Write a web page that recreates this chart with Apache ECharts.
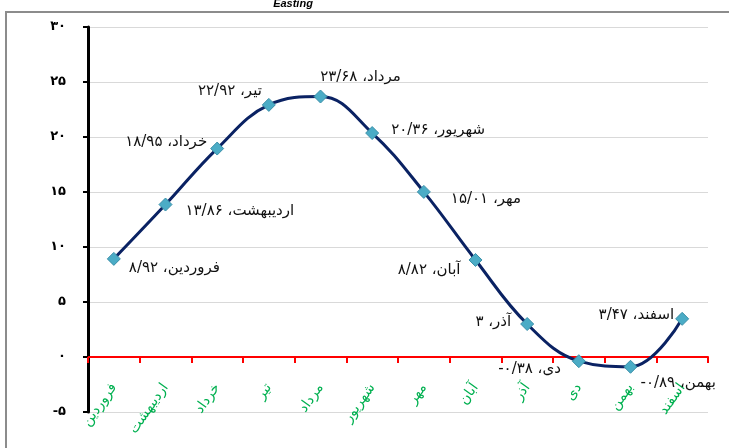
<!DOCTYPE html>
<html>
<head>
<meta charset="utf-8">
<script src="https://cdn.jsdelivr.net/npm/echarts@6/dist/echarts.min.js"></script>
<style>html,body{margin:0;padding:0;background:#fff}#c{width:729px;height:448px}</style>
</head>
<body>
<div id="c"></div>
<script>
// ---- data ----
const months = ['فروردین','اردیبهشت','خرداد','تیر','مرداد','شهریور','مهر','آبان','آذر','دی','بهمن','اسفند'];
const easting = [8.92, 13.86, 18.95, 22.92, 23.68, 20.36, 15.01, 8.82, 3, -0.38, -0.89, 3.47];
const yTicks = [-5, 0, 5, 10, 15, 20, 25, 30];
const chartTitle = 'Easting';

// ---- label placement (style only) ----
const labelPlacement = [
  {position:'right', distance:8,  offset:[0,9]},
  {position:'right', distance:13, offset:[0,7]},
  {position:'left',  distance:3,  offset:[0,-6]},
  {position:'left',  distance:0,  offset:[0,-14]},
  {position:'top',   distance:5,  offset:[40,0]},
  {position:'right', distance:12, offset:[0,-3]},
  {position:'right', distance:20, offset:[0,7]},
  {position:'left',  distance:8,  offset:[0,10]},
  {position:'left',  distance:9,  offset:[0,-2]},
  {position:'left',  distance:11, offset:[0,8]},
  {position:'right', distance:3,  offset:[0,16]},
  {position:'left',  distance:1,  offset:[0,-4]}
];

const faDigits = '۰۱۲۳۴۵۶۷۸۹';
function toFa(s){ return String(s).replace(/[0-9]/g, d => faDigits[+d]).replace('.', '/'); }
function labelText(name, v){
  const num = toFa(Math.abs(v));
  return '\u200F' + name + '، ' + num + (v < 0 ? '-' : '') + '\u200F';
}

const chart = echarts.init(document.getElementById('c'), null, {renderer:'canvas'});
chart.setOption({
  animation:false,
  title:{text:chartTitle, left:288, top:-7, textAlign:'center',
    textStyle:{fontFamily:'Liberation Sans', fontSize:11, fontWeight:'bold', fontStyle:'italic', color:'#000'}},
  graphic:[{type:'rect', shape:{x:6, y:12, width:740, height:460},
    style:{fill:'none', stroke:'#8c8c8c', lineWidth:2}, silent:true, z:-1}],
  grid:{left:88, right:21, top:27, bottom:36, containLabel:false, outerBoundsMode:'none'},
  xAxis:{
    type:'category', data:months, boundaryGap:true,
    axisLine:{onZero:true, lineStyle:{color:'#ff0000', width:2}},
    axisTick:{show:true, length:6, lineStyle:{color:'#ff0000', width:2}},
    axisLabel:{rotate:55, margin:-27, color:'#00B050', fontFamily:'DejaVu Sans', fontSize:14, interval:0},
    splitLine:{show:false}
  },
  yAxis:{
    type:'value', min:yTicks[0], max:yTicks[yTicks.length-1], interval:5,
    axisLine:{show:true, lineStyle:{color:'#000', width:3}},
    axisTick:{show:true, length:5, lineStyle:{color:'#000', width:2}},
    axisLabel:{margin:22, color:'#000', fontFamily:'DejaVu Sans', fontSize:13, fontWeight:'bold',
      formatter:v => toFa(v)},
    splitLine:{show:true, lineStyle:{color:'#d9d9d9', width:1}}
  },
  series:[{
    type:'line', smooth:0.4,
    data: easting.map((v,i) => ({value:v, label:Object.assign({show:true}, labelPlacement[i])})),
    symbol:'diamond', symbolSize:13,
    lineStyle:{color:'#0a2263', width:3},
    itemStyle:{color:'#4bacc6', borderColor:'#3a8fa8', borderWidth:1},
    label:{show:true, color:'#111', fontFamily:'DejaVu Sans', fontSize:15,
      formatter:p => labelText(months[p.dataIndex], easting[p.dataIndex])},
    z:3
  }]
});
</script>
</body>
</html>
